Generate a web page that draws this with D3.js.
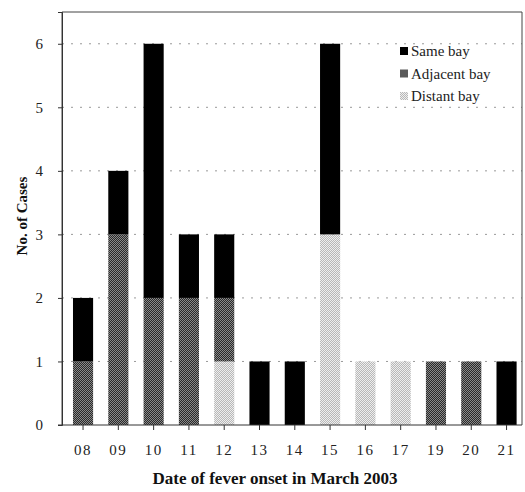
<!DOCTYPE html>
<html><head><meta charset="utf-8">
<script src="https://cdn.jsdelivr.net/npm/d3@7"></script>
<style>body{margin:0;background:#fff} svg text{font-family:"Liberation Serif","Times New Roman",serif}</style>
</head><body>
<svg id="c" width="525" height="492"></svg>
<script>
const categories = ["08","09","10","11","12","13","14","15","16","17","19","20","21"];
const distantBay  = [0,0,0,0,1,0,0,3,1,1,0,0,0];
const adjacentBay = [1,3,2,2,1,0,0,0,0,0,1,1,0];
const sameBay     = [1,1,4,1,1,1,1,3,0,0,0,0,1];
const seriesNames = ["Distant bay","Adjacent bay","Same bay"];
const yTicks = [0,1,2,3,4,5,6];

const svg = d3.select("#c");
const font = "Liberation Serif, Times New Roman, serif";
const defs = svg.append("defs");
function pat(id, a, b){
  const p = defs.append("pattern").attr("id",id).attr("width",2).attr("height",2).attr("patternUnits","userSpaceOnUse");
  p.append("rect").attr("width",2).attr("height",2).attr("fill",a);
  p.append("rect").attr("width",1).attr("height",1).attr("fill",b);
  p.append("rect").attr("x",1).attr("y",1).attr("width",1).attr("height",1).attr("fill",b);
}
pat("adj","#2a2a2a","#8a8a8a");
pat("dis","#b8b8b8","#eeeeee");
const fills = {"Distant bay":"url(#dis)","Adjacent bay":"url(#adj)","Same bay":"#000"};

const pL=62, pR=522, pT=12, pB=425;
const x = d3.scaleBand().domain(categories).range([65.4,524.2]).paddingInner(0.43).paddingOuter(0.215);
const y = d3.scaleLinear().domain([0,6.5]).range([pB,pT]);

// gridlines
svg.append("g").selectAll("line").data(yTicks.filter(d=>d>0)).join("line")
  .attr("x1",pL).attr("x2",pR).attr("y1",d=>y(d)).attr("y2",d=>y(d))
  .attr("stroke","#999").attr("stroke-width",1).attr("stroke-dasharray","2,7");

// data table
const rows = categories.map((c,i)=>({cat:c,"Distant bay":distantBay[i],"Adjacent bay":adjacentBay[i],"Same bay":sameBay[i]}));
const stack = d3.stack().keys(seriesNames)(rows);
svg.append("g").selectAll("g").data(stack).join("g").attr("fill",d=>fills[d.key])
  .selectAll("rect").data(d=>d.filter(v=>v[1]>v[0])).join("rect")
  .attr("x",d=>x(d.data.cat)).attr("width",x.bandwidth())
  .attr("y",d=>y(d[1])).attr("height",d=>y(d[0])-y(d[1]));

// frame
svg.append("path").attr("d",`M${pL},${pB}V${pT}H${pR}V${pB}`).attr("fill","none").attr("stroke","#444").attr("stroke-width",1);

// axes
const ya = svg.append("g").attr("transform",`translate(${pL},0)`)
  .call(d3.axisLeft(y).tickValues(yTicks).tickSize(4).tickPadding(15).tickFormat(d3.format("d")));
ya.attr("font-family",font);
ya.select(".domain").attr("stroke","#333");
ya.selectAll("text").attr("font-size",15).attr("fill","#222");
ya.selectAll(".tick line").attr("stroke","#333");

const xa = svg.append("g").attr("transform",`translate(0,${pB})`)
  .call(d3.axisBottom(x).tickSize(5).tickPadding(14).tickSizeOuter(0));
xa.attr("font-family",font);
xa.select(".domain").attr("stroke","#333").attr("d",`M${pL-4},0H${pR}`);
xa.selectAll("text").attr("font-size",15).attr("letter-spacing",1.5).attr("fill","#222");
xa.selectAll(".tick line").attr("stroke","#333");

// titles
svg.append("text").attr("x",275).attr("y",484).attr("text-anchor","middle")
  .attr("font-family",font).attr("font-weight","bold").attr("font-size",17).attr("fill","#111")
  .text("Date of fever onset in March 2003");
svg.append("text").attr("transform",`translate(27,216) rotate(-90)`).attr("text-anchor","middle")
  .attr("font-family",font).attr("font-weight","bold").attr("font-size",15).attr("fill","#111")
  .text("No. of Cases");

// legend
const legendOrder = ["Same bay","Adjacent bay","Distant bay"];
const lg = svg.append("g").attr("transform","translate(400,56)");
legendOrder.forEach((n,i)=>{
  const g = lg.append("g").attr("transform",`translate(0,${i*22.5})`);
  g.append("rect").attr("x",0).attr("y",-9).attr("width",8).attr("height",8).attr("fill",fills[n]);
  g.append("text").attr("x",11).attr("y",0).attr("font-family",font).attr("font-size",15).attr("fill","#222").text(n);
});
</script>
</body></html>
